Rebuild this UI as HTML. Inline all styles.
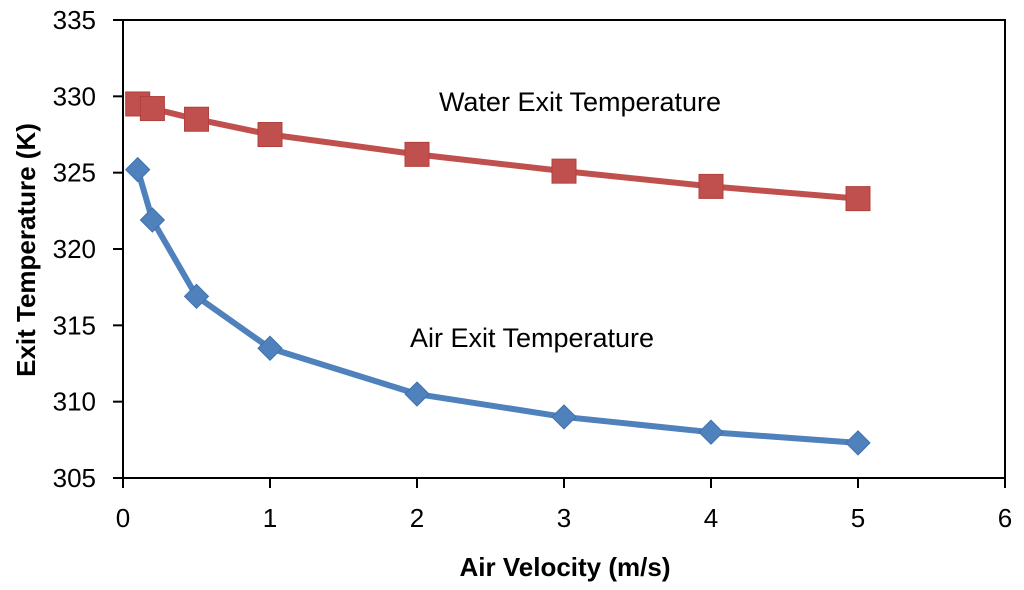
<!DOCTYPE html>
<html><head><meta charset="utf-8"><style>
body{margin:0;background:#fff;}
svg text{font-family:"Liberation Sans",sans-serif;}
</style></head><body>
<svg id="chart" width="1024" height="585" viewBox="0 0 1024 585">
<rect x="123" y="20" width="882" height="458" fill="none" stroke="#000" stroke-width="2"/>
<g id="axes"></g>
<g id="series"></g>
<text x="565" y="576" text-anchor="middle" font-size="26" font-weight="bold">Air Velocity (m/s)</text>
<text transform="translate(35,250) rotate(-90)" text-anchor="middle" font-size="26" font-weight="bold">Exit Temperature (K)</text>
<text x="580" y="111" text-anchor="middle" font-size="27">Water Exit Temperature</text>
<text x="532" y="347" text-anchor="middle" font-size="27">Air Exit Temperature</text>
</svg>
<script>
const xVals=[0.1,0.2,0.5,1,2,3,4,5];
const waterTemps=[329.5,329.2,328.5,327.5,326.2,325.1,324.1,323.3];
const airTemps=[325.2,321.9,316.9,313.5,310.5,309.0,308.0,307.3];
const xTicks=[0,1,2,3,4,5,6];
const yTicks=[305,310,315,320,325,330,335];
const NS="http://www.w3.org/2000/svg";
const X=v=>123+v*(882/6);
const Y=v=>478-(v-305)*(458/30);
function mk(t,a,p){const e=document.createElementNS(NS,t);for(const k in a)e.setAttribute(k,a[k]);p.appendChild(e);return e;}
const axes=document.getElementById('axes'),ser=document.getElementById('series');
xTicks.forEach(t=>{
 const l=mk('line',{x1:X(t),x2:X(t),y1:478,y2:488,stroke:'#000','stroke-width':2},axes);
 
 
 const tx=mk('text',{x:X(t),y:527,'text-anchor':'middle','font-size':26},axes);tx.textContent=t;
 
 
});
yTicks.forEach(t=>{
 const l=mk('line',{x1:113,x2:123,y1:Y(t),y2:Y(t),stroke:'#000','stroke-width':2},axes);
 
 
 const tx=mk('text',{x:96,y:Y(t)+9,'text-anchor':'end','font-size':26},axes);tx.textContent=t;
 
 
});
function line(vals,color,name){
 const p=mk('polyline',{points:xVals.map((x,i)=>X(x)+','+Y(vals[i])).join(' '),fill:'none',stroke:color,'stroke-width':6,'stroke-linejoin':'round'},ser);
 
 
}
line(waterTemps,'#c0504d','water');
line(airTemps,'#4f81bd','air');
xVals.forEach((x,i)=>{
 const r=mk('rect',{x:X(x)-12,y:Y(waterTemps[i])-12,width:24,height:24,fill:'#c0504d',stroke:'#b0403d','stroke-width':1},ser);
 
 
 const cx=X(x),cy=Y(airTemps[i]);
 const d=mk('polygon',{points:`${cx},${cy-12} ${cx+12},${cy} ${cx},${cy+12} ${cx-12},${cy}`,fill:'#4f81bd',stroke:'#3f71ad','stroke-width':1},ser);
 
 
});
</script>
</body></html>
